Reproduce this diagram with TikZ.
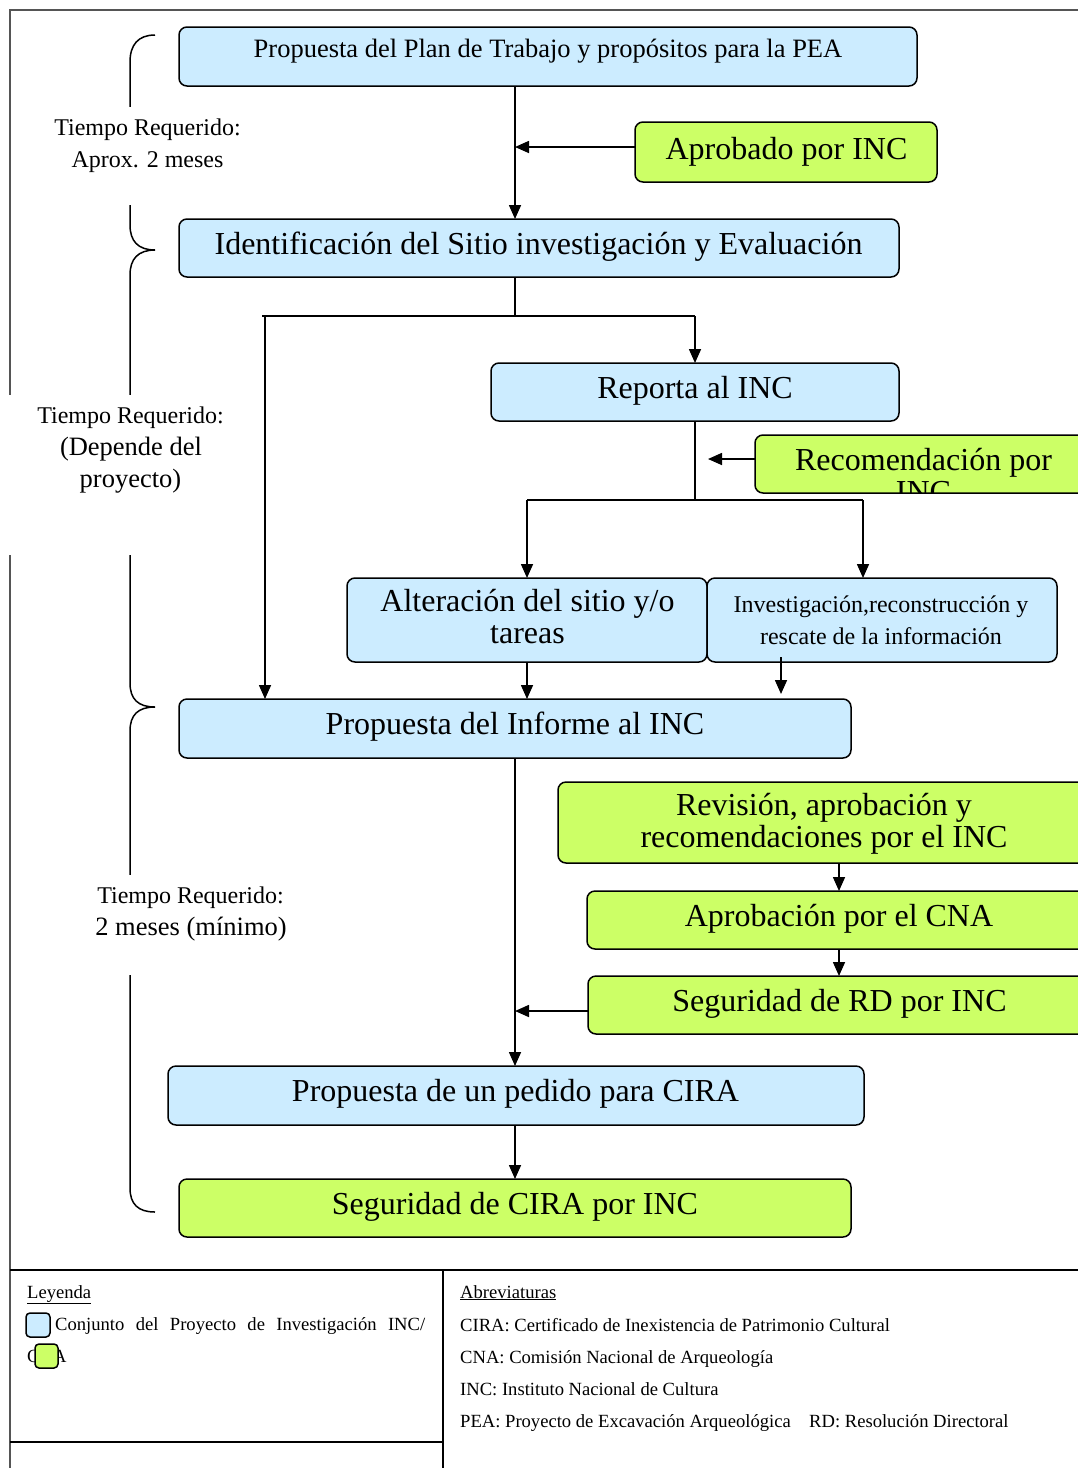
\documentclass[tikz,border=0pt]{standalone}
\usepackage{fontspec}
\setmainfont{Liberation Serif}
\usetikzlibrary{arrows.meta,calc}
\definecolor{blueF}{HTML}{CCECFF}
\definecolor{greenF}{HTML}{CCFF66}
\definecolor{frameG}{HTML}{555555}
\begin{document}
\begin{tikzpicture}[x=1pt,y=-1pt,
  box/.style={draw=black,line width=1.5pt,rounded corners=8pt,inner sep=0pt,outer sep=0pt,anchor=north west},
  bbox/.style={box,fill=blueF},
  gbox/.style={box,fill=greenF},
  bigt/.style={inner sep=0pt,anchor=base,font=\fontsize{32}{32}\selectfont},
  midt/.style={inner sep=0pt,anchor=base,font=\fontsize{26.5}{32}\selectfont},
  smt/.style={inner sep=0pt,anchor=base,font=\fontsize{24}{32}\selectfont},
  legt/.style={inner sep=0pt,anchor=base west,font=\fontsize{18.6}{32}\selectfont},
  conn/.style={line width=1.6pt},
  arr/.style={conn,-{Triangle[length=14pt,width=12pt]}},
  swatch/.style={draw=black,line width=1.5pt,rounded corners=4pt}
]
\useasboundingbox (0,0) rectangle (1078,1468);
\clip (0,0) rectangle (1078,1468);

% outer frame
\draw[frameG,line width=1.5pt] (1078,10) -- (10,10) -- (10,1468);
\draw[black,line width=2pt] (10,1270) -- (1078,1270);
\draw[black,line width=2pt] (443,1270) -- (443,1468);
\draw[black,line width=2pt] (10,1442) -- (443,1442);

% braces
\draw[line width=1.5pt] (155,35) .. controls (138,35) and (130,45) .. (130,62) -- (130,225)
  .. controls (130,241) and (138,250) .. (155,250)
  .. controls (138,250) and (130,259) .. (130,275) -- (130,683)
  .. controls (130,699) and (138,707) .. (155,707)
  .. controls (138,707) and (130,715) .. (130,731) -- (130,1188)
  .. controls (130,1204) and (138,1212) .. (155,1212);

% time labels (white backgrounds)
\fill[white] (20,107) rectangle (255,205);
\fill[white] (4,395) rectangle (255,555);
\fill[white] (40,875) rectangle (300,975);
\node[smt] (l1a) at (147.5,135) {Tiempo Requerido:};
\node[smt] (l1b) at (147.5,167) {Aprox. 2 meses};
\node[smt] (l2a) at (130.5,423) {Tiempo Requerido:};
\node[midt] (l2b) at (131,455) {(Depende del};
\node[midt] (l2c) at (130.5,487) {proyecto)};
\node[smt] (l3a) at (190.5,903) {Tiempo Requerido:};
\node[midt] (l3b) at (191,935) {2 meses (mínimo)};

% guide coordinates
\coordinate (mx) at (515,0);
\coordinate (lx) at (265,0);
\coordinate (rx) at (839,0);
\coordinate (ix) at (863,0);
\coordinate (tx) at (708,0);
\coordinate (b1) at (0,316);
\coordinate (b2) at (0,500);

% boxes
\node[bbox,minimum width=738pt,minimum height=59pt] (plan) at (179,27) {};
\node[gbox,minimum width=302pt,minimum height=60pt] (aprob) at (635,122) {};
\node[bbox,minimum width=720pt,minimum height=58pt] (ident) at (179,219) {};
\node[bbox,minimum width=408pt,minimum height=58pt] (reporta) at (491,363) {};
\node[gbox,minimum width=345pt,minimum height=58pt] (recom) at (755,435) {};
\node[bbox,minimum width=360pt,minimum height=84pt] (alter) at (347,578) {};
\node[bbox,minimum width=350pt,minimum height=84pt] (invest) at (707,578) {};
\node[bbox,minimum width=672pt,minimum height=59pt] (informe) at (179,699) {};
\node[gbox,minimum width=542pt,minimum height=81pt] (revis) at (558,782) {};
\node[gbox,minimum width=513pt,minimum height=58pt] (cna) at (587,891) {};
\node[gbox,minimum width=512pt,minimum height=58pt] (rd) at (588,976) {};
\node[bbox,minimum width=696pt,minimum height=59pt] (pedido) at (168,1066) {};
\node[gbox,minimum width=672pt,minimum height=58pt] (segcira) at (179,1179) {};

% box texts
\node[midt] (tplan) at (548,57) {Propuesta del Plan de Trabajo y propósitos para la PEA};
\node[bigt] (taprob) at (786.5,159) {Aprobado por INC};
\node[bigt] (tident) at (538.5,254) {Identificación del Sitio investigación y Evaluación};
\node[bigt] (treporta) at (695,398) {Reporta al INC};
\begin{scope}
  \clip[rounded corners=8pt] (755,435) rectangle (1100,493);
  \node[bigt] (trecom) at (923.5,470) {\begin{tabular}[t]{@{}c@{}}Recomendación por\\INC\end{tabular}};
\end{scope}
\node[bigt] (talter) at (527.5,611) {\begin{tabular}[t]{@{}c@{}}Alteración del sitio y/o\\tareas\end{tabular}};
\node[smt] (tinvest) at (881,612) {\begin{tabular}[t]{@{}c@{}}Investigación,reconstrucción y\\rescate de la información\end{tabular}};
\node[bigt] (tinforme) at (515,734) {Propuesta del Informe al INC};
\node[bigt] (trevis) at (824,815) {\begin{tabular}[t]{@{}c@{}}Revisión, aprobación y\\recomendaciones por el INC\end{tabular}};
\node[bigt] (tcna) at (839,926) {Aprobación por el CNA};
\node[bigt] (trd) at (839.5,1011) {Seguridad de RD por INC};
\node[bigt] (tpedido) at (515.5,1101) {Propuesta de un pedido para CIRA};
\node[bigt] (tsegcira) at (515,1214) {Seguridad de CIRA por INC};

% connectors
\draw[arr] (plan.south -| mx) -- (ident.north -| mx);
\draw[arr] ([yshift=5pt]aprob.west) -- ([yshift=5pt]aprob.west -| mx);
\draw[conn] (ident.south -| mx) -- (b1 -| mx);
\draw[conn] ($(b1 -| lx)+(-3,0)$) -- (b1 -| reporta.north);
\draw[arr] (b1 -| reporta.north) -- (reporta.north);
\draw[arr] ($(b1 -| lx)+(0,1)$) -- (informe.north -| lx);
\draw[conn] (reporta.south) -- (b2 -| reporta.south);
\draw[conn] (b2 -| alter.north) -- (b2 -| ix);
\draw[arr] (b2 -| alter.north) -- (alter.north);
\draw[arr] (b2 -| ix) -- (invest.north -| ix);
\draw[arr] ([yshift=5pt]recom.west) -- ([yshift=5pt]recom.west -| tx);
\draw[arr] (alter.south) -- (alter.south |- informe.north);
\coordinate (invs) at (781,657);
\coordinate (invt) at (781,694);
\draw[arr] (invs) -- (invt);
\draw[arr] (informe.south -| mx) -- (pedido.north -| mx);
\draw[arr] (revis.south -| rx) -- (cna.north -| rx);
\draw[arr] (cna.south -| rx) -- (rd.north -| rx);
\draw[arr] ([yshift=-6pt]rd.west) -- ([yshift=-6pt]rd.west -| mx);
\draw[arr] (pedido.south -| mx) -- (segcira.north -| mx);

% legend
\node[legt] (leyenda) at (27,1298) {\underline{Leyenda}};
\node[legt] (conj) at (55,1330) {\makebox[370pt][s]{Conjunto del Proyecto de Investigación INC/}};
\node[legt] (cnaleg) at (27,1362) {CNA};
\draw[swatch,fill=blueF] (26,1313) rectangle (50,1337);
\draw[swatch,fill=greenF] (35,1344) rectangle (58,1368);

\node[legt] (abrev) at (460,1298) {\underline{Abreviaturas}};
\node[legt] (ab1) at (460,1331) {CIRA: Certificado de Inexistencia de Patrimonio Cultural};
\node[legt] (ab2) at (460,1363) {CNA: Comisión Nacional de Arqueología};
\node[legt] (ab3) at (460,1395) {INC: Instituto Nacional de Cultura};
\node[legt] (ab4) at (460,1427) {PEA: Proyecto de Excavación Arqueológica};
\node[legt] (ab5) at (809,1427) {RD: Resolución Directoral};
\end{tikzpicture}
\end{document}
